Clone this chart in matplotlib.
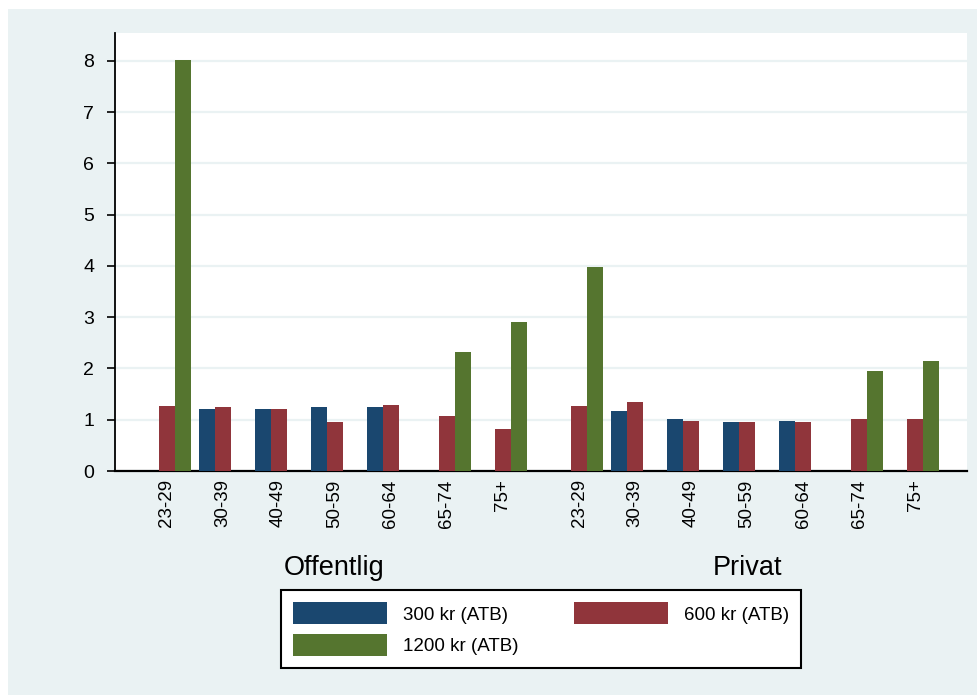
import numpy as np
import matplotlib
matplotlib.use("Agg")
import matplotlib.pyplot as plt
import matplotlib.transforms as mtransforms
from matplotlib.patches import Rectangle, Patch

# Data (nan = no bar)
ages = ["23-29", "30-39", "40-49", "50-59", "60-64", "65-74", "75+"]
sectors = ["Offentlig", "Privat"]
series_names = ["300 kr (ATB)", "600 kr (ATB)", "1200 kr (ATB)"]

off_300 = [np.nan, 1.20, 1.20, 1.24, 1.24, np.nan, np.nan]
off_600 = [1.27, 1.24, 1.20, 0.96, 1.28, 1.08, 0.81]
off_1200 = [8.02, np.nan, np.nan, np.nan, np.nan, 2.32, 2.90]

priv_300 = [np.nan, 1.18, 1.02, 0.95, 0.98, np.nan, np.nan]
priv_600 = [1.26, 1.34, 0.98, 0.95, 0.95, 1.02, 1.02]
priv_1200 = [3.98, np.nan, np.nan, np.nan, np.nan, 1.95, 2.15]

colors = ["#1a476f", "#90353b", "#55752f"]
bg = "#eaf2f3"

plt.rcParams["font.family"] = ["Liberation Sans", "DejaVu Sans"]

fig = plt.figure(figsize=(9.78, 6.95), dpi=100)
fig.patch.set_facecolor("white")
# Stata-like graph region background
fig.patches.append(Rectangle((8 / 978, 0), 1, 1 - 9 / 695, transform=fig.transFigure,
                             facecolor=bg, edgecolor="none", zorder=-10))

ax = fig.add_axes([115 / 978, 1 - 471 / 695, (967 - 115) / 978, (471 - 33) / 695])
ax.set_facecolor("white")

width = 16 / 56
sector_gap = 7 + 20.5 / 56
data = [[off_300, off_600, off_1200], [priv_300, priv_600, priv_1200]]

centers = []
for s, sector_data in enumerate(data):
    x = np.arange(len(ages)) + s * sector_gap
    centers.extend(x)
    for k, vals in enumerate(sector_data):
        ax.bar(x + (k - 1) * width, vals, width=width, color=colors[k],
               edgecolor="none", zorder=3)

ax.set_xlim(-0.92, 14.29)
ax.set_ylim(0, 8.546)
ax.set_yticks(range(0, 9))
ax.yaxis.grid(True, color=bg, linewidth=1.6, zorder=0)
ax.set_axisbelow(True)

ax.set_xticks(centers)
ax.set_xticklabels(ages * 2, rotation=90, fontsize=13.5, va="top")
ax.tick_params(axis="x", length=0, pad=6)
ax.tick_params(axis="y", length=6, width=1.2, pad=9, labelsize=14)

for side in ["top", "right"]:
    ax.spines[side].set_visible(False)
ax.spines["left"].set_linewidth(1.3)
ax.spines["bottom"].set_linewidth(1.6)

# sector labels under each group block
trans = mtransforms.blended_transform_factory(ax.transData, fig.transFigure)
for s, name in enumerate(sectors):
    ax.text(3 + s * sector_gap, 1 - 568 / 695, name, transform=trans,
            ha="center", va="center", fontsize=19.5)

handles = [Patch(facecolor=colors[0], label=series_names[0]),
           Patch(facecolor=colors[2], label=series_names[2]),
           Patch(facecolor=colors[1], label=series_names[1])]
leg = fig.legend(handles=handles, ncol=2, loc="upper left", mode="expand",
                 bbox_to_anchor=(281 / 978, 1 - 590 / 695, 520 / 978, 0),
                 borderaxespad=0,
                 fontsize=13.5, handlelength=5.0, handleheight=1.45,
                 handletextpad=0.85, columnspacing=2.0, labelspacing=0.5,
                 borderpad=0.65, frameon=True, fancybox=False, framealpha=1)
leg.get_frame().set_edgecolor("black")
leg.get_frame().set_linewidth(1.5)
leg.get_frame().set_facecolor("white")

fig.savefig("out.png", dpi=100)
